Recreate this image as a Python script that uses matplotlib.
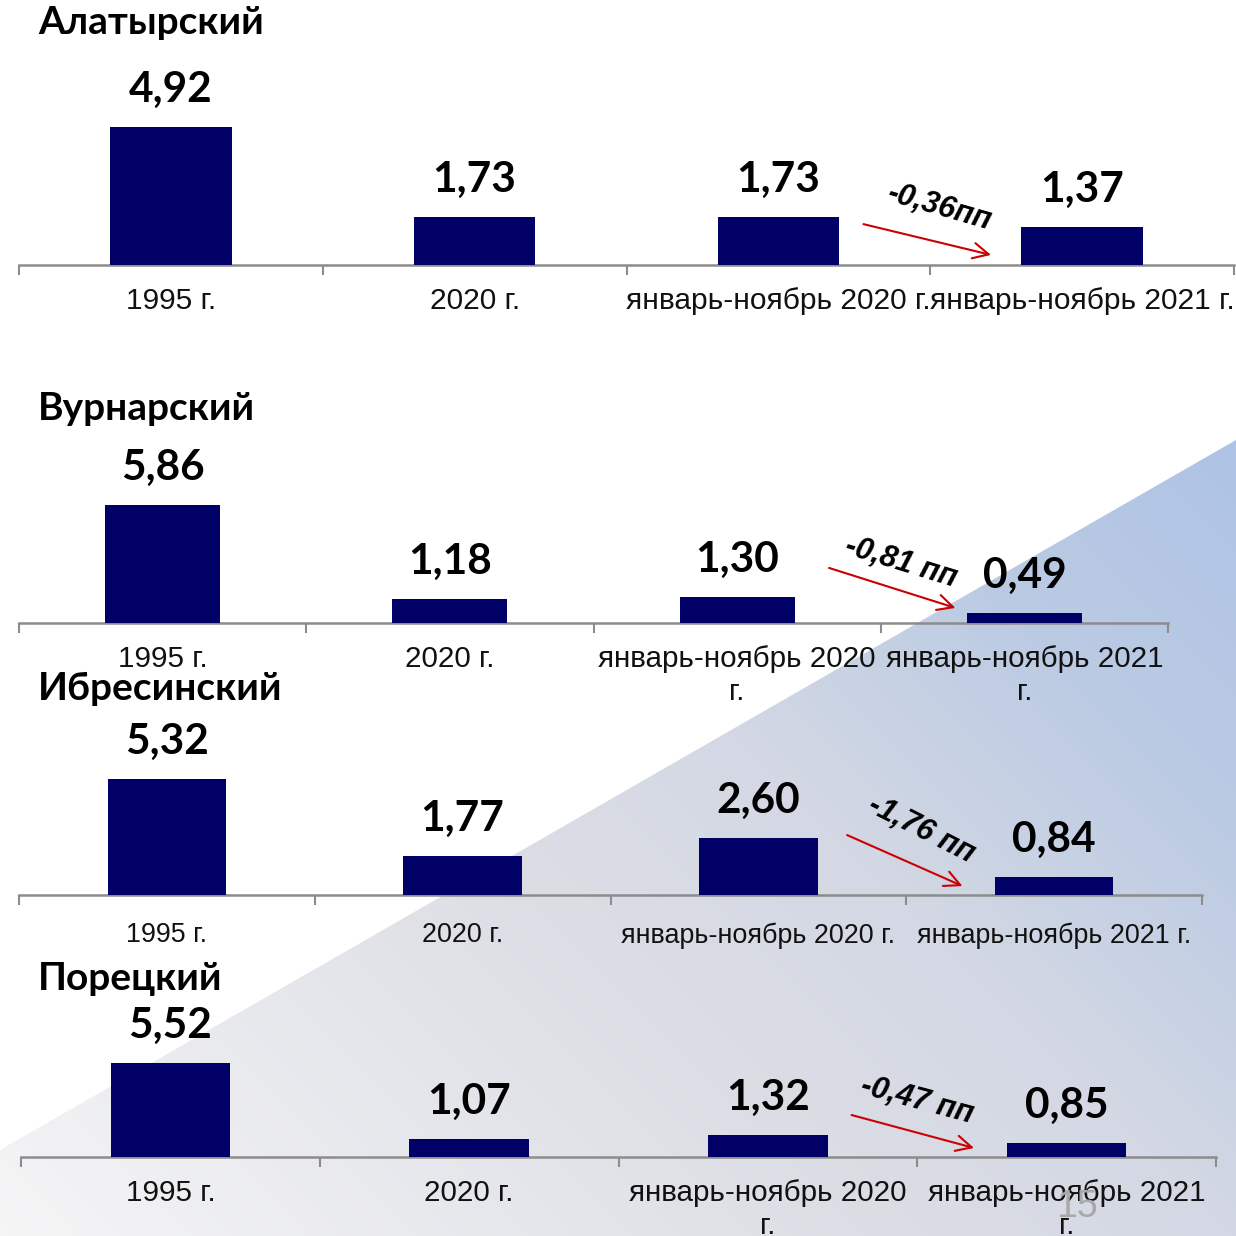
import matplotlib
matplotlib.use('Agg')
import matplotlib.pyplot as plt
import numpy as np
from matplotlib.patches import Polygon
from matplotlib.colors import LinearSegmentedColormap

# ---------------- data ----------------
districts = ['Алатырский', 'Вурнарский', 'Ибресинский', 'Порецкий']
labels_single = ['1995 г.', '2020 г.', 'январь-ноябрь 2020 г.', 'январь-ноябрь 2021 г.']
labels_wrapped = ['1995 г.', '2020 г.', 'январь-ноябрь 2020\nг.', 'январь-ноябрь 2021\nг.']
alatyr = [4.92, 1.73, 1.73, 1.37]
vurnar = [5.86, 1.18, 1.30, 0.49]
ibresi = [5.32, 1.77, 2.60, 0.84]
porets = [5.52, 1.07, 1.32, 0.85]
changes = ['-0,36пп', '-0,81 пп', '-1,76 пп', '-0,47 пп']
page_number = '15'

W = H = 1236
fig = plt.figure(figsize=(W / 100, H / 100), dpi=100)
fig.patch.set_facecolor('white')

# ---------------- background wedge ----------------
bg = fig.add_axes([0, 0, 1, 1], zorder=0)
bg.set_xlim(0, W)
bg.set_ylim(H, 0)
bg.axis('off')
xx, yy = np.meshgrid(np.linspace(0, 1, 400), np.linspace(0, 1, 400))
t = np.clip(0.5 * xx + 0.5 * (1 - yy), 0, 1)
cmap = LinearSegmentedColormap.from_list('wedge', [
    (0.0, '#f5f5f6'), (0.35, '#dcdee5'), (0.5, '#d3d8e4'),
    (0.66, '#bccbe3'), (0.82, '#aec3e6'), (1.0, '#a8bfe6')])
im = bg.imshow(t, cmap=cmap, vmin=0, vmax=1, extent=(0, W, H, 0),
               aspect='auto', interpolation='bilinear')
wedge = Polygon([(0, 1150), (W, 440), (W, H), (0, H)], closed=True,
                transform=bg.transData, facecolor='none', edgecolor='none')
bg.add_patch(wedge)
im.set_clip_path(wedge)

# ---------------- panels ----------------
BAR_COLOR = '#000066'
VAL_FONT = ['Lato', 'DejaVu Sans']
LBL_FONT = ['Liberation Sans', 'DejaVu Sans']

panels = [
    dict(vals=alatyr, labels=labels_single, x0=19, x1=1234, yax=265, ppu=28.0, ty=22,
         fs=21.5, pad=15.5, arrow=((2.28, 1.46), (2.70, 0.36)), ct=(2.53, 2.06, -16)),
    dict(vals=vurnar, labels=labels_wrapped, x0=19, x1=1168, yax=623, ppu=20.1, ty=409,
         fs=21.3, pad=16, arrow=((2.32, 2.74), (2.76, 0.75)), ct=(2.57, 3.03, -17)),
    dict(vals=ibresi, labels=labels_single, x0=19, x1=1202, yax=895, ppu=21.8, ty=689,
         fs=19.4, pad=19.5, arrow=((2.30, 2.75), (2.69, 0.41)), ct=(2.55, 3.0, -27)),
    dict(vals=porets, labels=labels_wrapped, x0=21, x1=1216, yax=1157, ppu=17.0, ty=979,
         fs=21.3, pad=16, arrow=((2.28, 2.47), (2.69, 0.53)), ct=(2.50, 3.35, -15)),
]

for name, p, chg in zip(districts, panels, changes):
    hpx = 200
    ax = fig.add_axes([p['x0'] / W, 1 - p['yax'] / H, (p['x1'] - p['x0']) / W, hpx / H], zorder=2)
    ax.patch.set_alpha(0)
    ax.set_xlim(-0.5, 3.5)
    ax.set_ylim(0, hpx / p['ppu'])
    x = np.arange(len(p['vals']))
    ax.bar(x, p['vals'], width=0.4, color=BAR_COLOR, zorder=3)
    for xi, v in zip(x, p['vals']):
        ax.annotate(f'{v:.2f}'.replace('.', ','), (xi, v), xytext=(0, 18),
                    textcoords='offset points', ha='center', va='baseline',
                    fontsize=30.5, fontweight='bold', family=VAL_FONT, color='black')
    for s in ['top', 'right', 'left']:
        ax.spines[s].set_visible(False)
    ax.spines['bottom'].set_color('#8c8c8c')
    ax.spines['bottom'].set_linewidth(1.8)
    ax.set_yticks([])
    ax.set_xticks([-0.5, 0.5, 1.5, 2.5, 3.5])
    ax.set_xticklabels([])
    ax.tick_params(axis='x', which='major', length=7, width=1.5, color='#8c8c8c', direction='out')
    ax.set_xticks(x, minor=True)
    ax.set_xticklabels(p['labels'], minor=True, fontsize=p['fs'], family=LBL_FONT,
                       linespacing=1.22, color='#111111')
    ax.tick_params(axis='x', which='minor', length=0, pad=p['pad'])
    (sx, sy), (ex, ey) = p['arrow']
    ax.annotate('', xy=(ex, ey), xytext=(sx, sy),
                arrowprops=dict(arrowstyle='->', color='#cc0000', lw=1.5,
                                mutation_scale=28, shrinkA=0, shrinkB=0))
    cx, cy, rot = p['ct']
    ax.text(cx, cy, chg, ha='center', va='center', rotation=rot, fontsize=22,
            fontweight='bold', fontstyle='italic', family=LBL_FONT, color='black')
    fig.text(38 / W, 1 - p['ty'] / H, name, ha='left', va='center', fontsize=28,
             fontweight='bold', family=VAL_FONT, color='black')

fig.text(1077 / W, 1 - 1207 / H, page_number, ha='center', va='center', fontsize=27,
         color='#a8a8a8', family=LBL_FONT, zorder=5)

fig.savefig('out.png', dpi=100)
